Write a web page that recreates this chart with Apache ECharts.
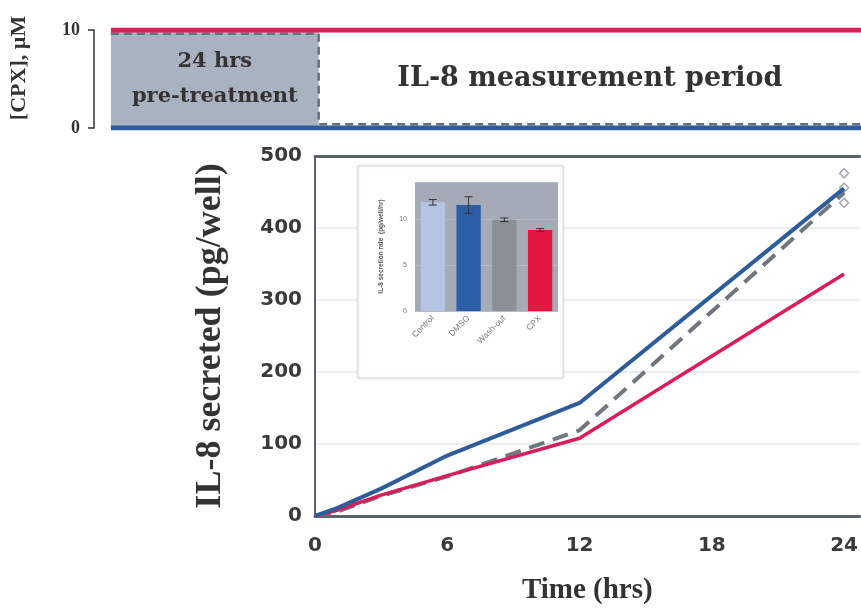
<!DOCTYPE html>
<html>
<head>
<meta charset="utf-8">
<script src="https://cdn.jsdelivr.net/npm/echarts@6/dist/echarts.min.js"></script>
<style>
  html, body { margin: 0; padding: 0; background: #fff; }
  #main { width: 861px; height: 610px; }
</style>
</head>
<body>
<div id="main"></div>
<script>
// ---- data ----
// main panel: IL-8 secreted (pg/well) vs time (hrs)
var times = [0, 1, 3, 6, 12, 24];
var dmso = [0, 11, 38, 84, 157, 455];
var cpx = [0, 8, 29, 56, 108, 336];
var washout = [0, 6, 28, 55, 119, 449];
var washoutReplicates24 = [476, 456, 435];

// top schematic: [CPX] in µM over a schematic timeline (0-100, pre-treatment ends at 27.7)
var phaseX = [0, 27.7, 100];
var cpxLevel = [10, 10, 10];
var dmsoLevel = [0, 0, 0];
var washoutX = [0, 27.7, 27.7, 100];
var washoutLevel = [10, 10, 0, 0];

// inset: IL-8 secretion rate (pg/well/hr)
var insetCats = ['Control', 'DMSO', 'Wash-out', 'CPX'];
var insetRate = [11.8, 11.5, 9.9, 8.8];
var insetErr = [0.3, 0.9, 0.2, 0.15];
var insetColors = ['#b4c4e2', '#2b5ea6', '#8b9096', '#e2163e'];

var RED = '#d81d58';
var BLUE = '#2e5c9b';
var GRAY = '#6f767e';
var serif = 'Liberation Serif';
var wideSerif = 'DejaVu Serif';
var sans = 'DejaVu Sans';

function zip(xs, ys) { return xs.map(function (x, i) { return [x, ys[i]]; }); }

var chart = echarts.init(document.getElementById('main'));

var option = {
  animation: false,
  backgroundColor: '#fff',
  graphic: [{
    type: 'rect', z: 3,
    shape: { x: 358, y: 166, width: 205, height: 212 },
    style: { fill: '#fff', stroke: '#d6dae0', lineWidth: 1, shadowBlur: 3, shadowColor: 'rgba(0,0,0,0.12)' }
  }],
  grid: [
    { left: 90, right: 0, top: 30, height: 98 },
    { left: 315, right: 0, top: 156, height: 360 },
    { left: 415, width: 143, top: 182, height: 129, show: true, backgroundColor: '#a4abb7', borderWidth: 0, z: 10 }
  ],
  xAxis: [
    { gridIndex: 0, type: 'value', min: -2.255, max: 100, show: false },
    {
      gridIndex: 1, type: 'value', min: 0, max: 24.7, interval: 6,
      name: 'Time (hrs)', nameLocation: 'middle', nameGap: 60,
      nameTextStyle: { fontFamily: serif, fontWeight: 'bold', fontSize: 29, color: '#333' },
      axisLine: { lineStyle: { color: '#5d636b', width: 3 } },
      axisTick: { show: false },
      splitLine: { show: false },
      axisLabel: { showMaxLabel: false, margin: 20, fontFamily: sans, fontWeight: 'bold', fontSize: 20, color: '#3a3a3a' }
    },
    {
      gridIndex: 1, type: 'value', min: 0, max: 24.7, position: 'top',
      axisLine: { lineStyle: { color: '#5d636b', width: 3 } },
      axisTick: { show: false }, axisLabel: { show: false }, splitLine: { show: false }
    },
    {
      gridIndex: 2, type: 'category', data: insetCats, z: 10,
      axisLine: { show: false }, axisTick: { show: false },
      axisLabel: { rotate: 45, fontSize: 8.5, color: '#7a7a7a', margin: 6, fontFamily: 'Liberation Sans' }
    }
  ],
  yAxis: [
    {
      gridIndex: 0, type: 'value', min: 0, max: 10, interval: 10,
      name: '[CPX], µM', nameLocation: 'middle', nameGap: 64, nameRotate: 90,
      nameTextStyle: { fontFamily: serif, fontWeight: 'bold', fontSize: 22, color: '#333', padding: [0, 0, 0, 22] },
      axisLine: { show: true, onZero: false, lineStyle: { color: '#333', width: 1.5 } },
      axisTick: { show: true, length: 6, lineStyle: { color: '#333', width: 1.5 } },
      axisLabel: { fontFamily: serif, fontWeight: 'bold', fontSize: 18, color: '#333', margin: 14 },
      splitLine: { show: false }
    },
    {
      gridIndex: 0, type: 'value', min: -0.4, max: 10.4, show: false
    },
    {
      gridIndex: 1, type: 'value', min: 0, max: 500, interval: 100,
      name: 'IL-8 secreted (pg/well)', nameLocation: 'middle', nameGap: 86, nameRotate: 90,
      nameTextStyle: { fontFamily: serif, fontWeight: 'bold', fontSize: 36, color: '#333' },
      axisLine: { show: true, onZero: false, lineStyle: { color: '#5d636b', width: 2 } },
      axisTick: { show: false },
      axisLabel: { margin: 13, fontFamily: sans, fontWeight: 'bold', fontSize: 20, color: '#3a3a3a' },
      splitLine: { show: true, lineStyle: { color: '#e4e7eb', width: 1.5 } }
    },
    {
      gridIndex: 2, type: 'value', min: 0, max: 14, interval: 5, z: 10,
      name: 'IL-8 secretion rate  (pg/well/hr)', nameLocation: 'middle', nameGap: 30, nameRotate: 90,
      nameTextStyle: { fontFamily: 'Liberation Sans', fontWeight: 'bold', fontSize: 6.5, color: '#555' },
      axisLine: { show: false }, axisTick: { show: false },
      axisLabel: { showMaxLabel: false, fontSize: 7, color: '#777', margin: 8 },
      splitLine: { show: true, lineStyle: { color: '#b5bcc6', width: 1 } }
    }
  ],
  series: [
    // top schematic
    {
      type: 'line', xAxisIndex: 0, yAxisIndex: 0, data: zip(phaseX, dmsoLevel),
      showSymbol: false, lineStyle: { color: BLUE, width: 5 }, z: 3,
      markArea: {
        silent: true,
        data: [
          [{ xAxis: 0, yAxis: 0, itemStyle: { color: '#a9b2c1' },
             label: { show: true, position: 'inside', formatter: '24 hrs\npre-treatment', fontFamily: wideSerif, fontWeight: 'bold', fontSize: 21, lineHeight: 35, color: '#333' } },
           { xAxis: 27.7, yAxis: 10 }],
          [{ xAxis: 27.7, yAxis: 0, itemStyle: { color: 'rgba(0,0,0,0)' },
             label: { show: true, position: 'inside', formatter: 'IL-8 measurement period', fontFamily: wideSerif, fontWeight: 'bold', fontSize: 27, color: '#333' } },
           { xAxis: 100, yAxis: 10 }]
        ]
      }
    },
    {
      type: 'line', xAxisIndex: 0, yAxisIndex: 1, data: zip(washoutX, washoutLevel),
      showSymbol: false, lineStyle: { color: '#65707e', width: 2.5, type: [8, 5] }, z: 2
    },
    {
      type: 'line', xAxisIndex: 0, yAxisIndex: 0, data: zip(phaseX, cpxLevel),
      showSymbol: false, lineStyle: { color: RED, width: 5 }, z: 4
    },
    // main panel
    {
      name: 'Wash-out', type: 'line', xAxisIndex: 1, yAxisIndex: 2, data: zip(times, washout),
      showSymbol: false, lineStyle: { color: GRAY, width: 4, type: [16, 9] }, z: 2
    },
    {
      name: 'Wash-out replicates', type: 'scatter', xAxisIndex: 1, yAxisIndex: 2,
      data: washoutReplicates24.map(function (v) { return [24, v]; }),
      symbol: 'diamond', symbolSize: 9,
      itemStyle: { color: '#fff', borderColor: '#8a9099', borderWidth: 1.5 }, z: 3
    },
    {
      name: 'CPX', type: 'line', xAxisIndex: 1, yAxisIndex: 2, data: zip(times, cpx),
      showSymbol: false, lineStyle: { color: RED, width: 3.5 }, z: 3
    },
    {
      name: 'DMSO', type: 'line', xAxisIndex: 1, yAxisIndex: 2, data: zip(times, dmso),
      showSymbol: false, lineStyle: { color: BLUE, width: 4 }, z: 4
    },
    // inset bars
    {
      type: 'bar', xAxisIndex: 3, yAxisIndex: 3, barWidth: '68%', z: 11,
      data: insetRate.map(function (v, i) { return { value: v, itemStyle: { color: insetColors[i] } }; })
    },
    {
      type: 'custom', xAxisIndex: 3, yAxisIndex: 3, z: 12,
      data: insetRate.map(function (v, i) { return [i, v - insetErr[i], v + insetErr[i]]; }),
      renderItem: function (params, api) {
        var lo = api.coord([api.value(0), api.value(1)]);
        var hi = api.coord([api.value(0), api.value(2)]);
        var w = 4;
        var st = { stroke: '#333', lineWidth: 1 };
        return {
          type: 'group',
          children: [
            { type: 'line', shape: { x1: hi[0], y1: hi[1], x2: lo[0], y2: lo[1] }, style: st },
            { type: 'line', shape: { x1: hi[0] - w, y1: hi[1], x2: hi[0] + w, y2: hi[1] }, style: st },
            { type: 'line', shape: { x1: lo[0] - w, y1: lo[1], x2: lo[0] + w, y2: lo[1] }, style: st }
          ]
        };
      }
    }
  ]
};

chart.setOption(option);
window.onresize = function () { chart.resize(); };
</script>
</body>
</html>
